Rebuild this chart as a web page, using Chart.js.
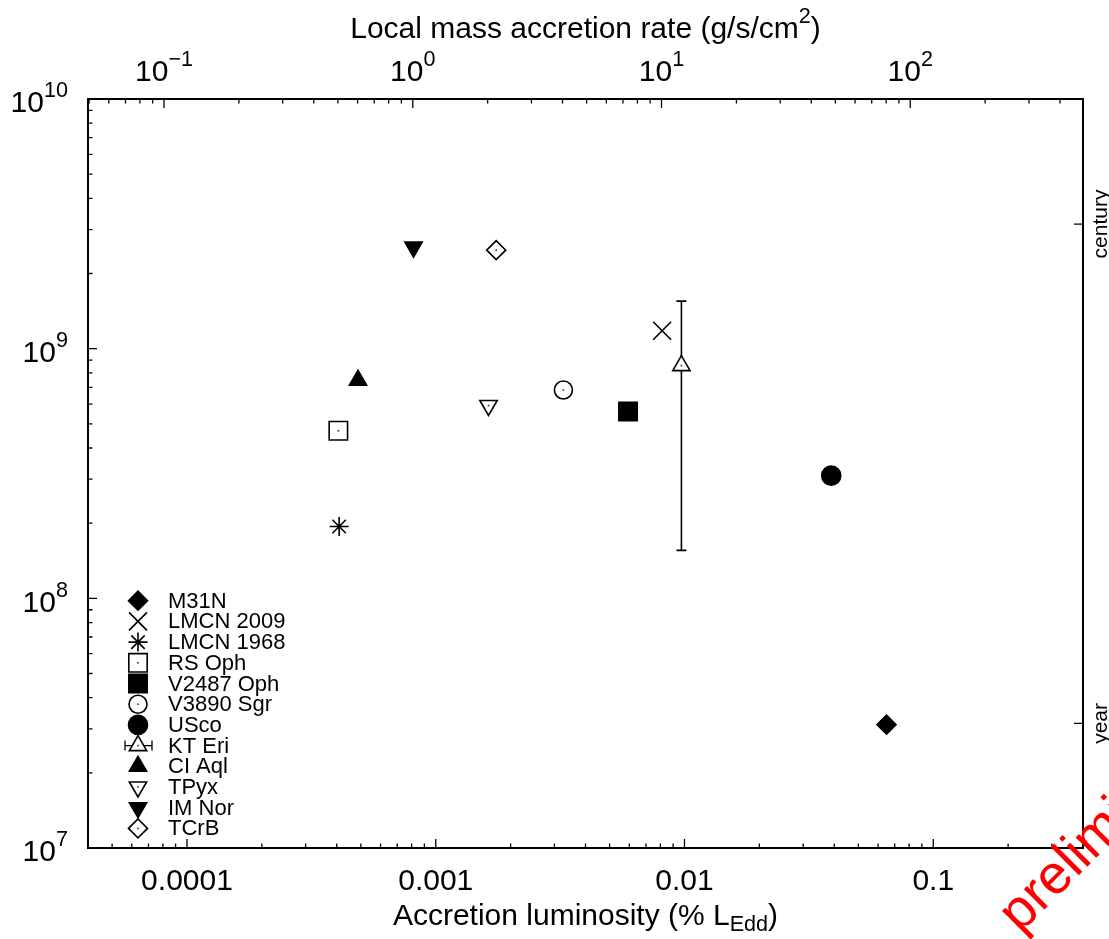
<!DOCTYPE html>
<html>
<head>
<meta charset="utf-8">
<title>Recurrence time vs accretion luminosity</title>
<script src="https://cdn.jsdelivr.net/npm/chart.js@4.4.1/dist/chart.umd.min.js"></script>
<style>
  body { margin: 0; background: #fff; }
  canvas { display: block; }
</style>
</head>
<body>
<canvas id="myCanvas" width="1109" height="939"></canvas>
<script>
// recurrent novae
const novae = ['M31N', 'LMCN 2009', 'LMCN 1968', 'RS Oph', 'V2487 Oph', 'V3890 Sgr', 'USco', 'KT Eri', 'CI Aql', 'TPyx', 'IM Nor', 'TCrB']
// accretion luminosity (% L_Edd)
const accLum = [0.0649, 0.00813, 0.000409, 0.000406, 0.00593, 0.00326, 0.0389, 0.00972, 0.000487, 0.00163, 0.000814, 0.00175]
// recurrence time (s)
const recTime = [3.12e7, 1.18e9, 1.94e8, 4.69e8, 5.6e8, 6.83e8, 3.1e8, 8.55e8, 7.47e8, 5.92e8, 2.55e9, 2.48e9]

// KT Eri has an error bar
const ktEri = 7
const ktEriLow = 1.556e8
const ktEriHigh = 1.55e9

// axis ranges
const lumMin = 4e-5
const lumMax = 0.4
const timeMin = 1e7
const timeMax = 1e10
// g/s/cm^2 per % L_Edd, for the top axis
const rateFactor = 1237

// tick labels
const bottomTickValues = [1e-4, 1e-3, 1e-2, 1e-1]
const bottomTickText = ['0.0001', '0.001', '0.01', '0.1']
const topTickExp = [-1, 0, 1, 2]
const leftTickExp = [7, 8, 9, 10]
const rightTickValues = [3.156e7, 3.156e9]
const rightTickText = ['year', 'century']

// marker looks, one per nova
const markers = [
  { style: 'rectRot', fill: true, r: 9.5 },
  { style: 'crossRot', fill: false, r: 12.7 },
  { style: 'star', fill: false, r: 9.5 },
  { style: 'rect', fill: false, r: 13 },
  { style: 'rect', fill: true, r: 13 },
  { style: 'circle', fill: false, r: 9 },
  { style: 'circle', fill: true, r: 9.5 },
  { style: 'triangle', fill: false, r: 10, rot: 0 },
  { style: 'triangle', fill: true, r: 10, rot: 0 },
  { style: 'triangle', fill: false, r: 10, rot: 180 },
  { style: 'triangle', fill: true, r: 10, rot: 180 },
  { style: 'rectRot', fill: false, r: 9.5 },
]

const FONT = '"Liberation Sans", Arial, Helvetica, sans-serif'
const AXIS_SIZE = 30

// text with optional ^sup / _sub parts
function drawRich(ctx, parts, x, y, size, align) {
    const widths = parts.map(p => {
        ctx.font = (p.sup || p.sub ? size * 0.72 : size) + 'px ' + FONT
        return ctx.measureText(p.t).width
    })
    const total = widths.reduce((a, b) => a + b, 0)
    let cx = align === 'right' ? x - total : align === 'center' ? x - total / 2 : x
    ctx.textAlign = 'left'
    ctx.textBaseline = 'middle'
    parts.forEach((p, i) => {
        let dy = 0
        if (p.sup) dy = -size * 0.42
        if (p.sub) dy = size * 0.28
        ctx.font = (p.sup || p.sub ? size * 0.72 : size) + 'px ' + FONT
        ctx.fillText(p.t, cx, y + dy)
        cx += widths[i]
    })
}

function markerOpts(m) {
    return { pointStyle: m.style, radius: m.r, rotation: m.rot || 0, borderWidth: 1.6 }
}

function drawMarker(ctx, m, x, y) {
    ctx.save()
    ctx.fillStyle = m.fill ? '#000' : '#fff'
    ctx.strokeStyle = '#000'
    ctx.lineWidth = 1.6
    Chart.helpers.drawPoint(ctx, markerOpts(m), x, y)
    if (!m.fill && m.style !== 'crossRot' && m.style !== 'star') {
        ctx.fillStyle = '#333'
        ctx.fillRect(x - 0.8, y - 0.8, 1.6, 1.6)
    }
    ctx.restore()
}

const decorations = {
    id: 'decorations',
    beforeDatasetsDraw(chart) {
        // KT Eri error bar
        const ctx = chart.ctx
        const x = chart.scales.x.getPixelForValue(accLum[ktEri])
        const yLo = chart.scales.y.getPixelForValue(ktEriLow)
        const yHi = chart.scales.y.getPixelForValue(ktEriHigh)
        ctx.save()
        ctx.strokeStyle = '#000'
        ctx.lineWidth = 1.6
        ctx.beginPath()
        ctx.moveTo(x, yLo); ctx.lineTo(x, yHi)
        ctx.moveTo(x - 5, yLo); ctx.lineTo(x + 5, yLo)
        ctx.moveTo(x - 5, yHi); ctx.lineTo(x + 5, yHi)
        ctx.stroke()
        ctx.restore()
    },
    afterDatasetsDraw(chart) {
        const ctx = chart.ctx
        const a = chart.chartArea
        const sx = chart.scales.x, sx2 = chart.scales.x2, sy = chart.scales.y
        ctx.save()

        // centre dots of the open markers
        markers.forEach((m, i) => {
            if (m.fill || m.style === 'crossRot' || m.style === 'star') return
            const el = chart.getDatasetMeta(i).data[0]
            ctx.fillStyle = '#333'
            ctx.fillRect(el.x - 0.8, el.y - 0.8, 1.6, 1.6)
        })

        // frame
        ctx.strokeStyle = '#000'
        ctx.lineWidth = 2
        ctx.strokeRect(a.left, a.top, a.right - a.left, a.bottom - a.top)

        // log ticks, pointing inward
        ctx.lineWidth = 1.3
        ctx.beginPath()
        for (let e = -6; e <= 3; e++) {
            for (let k = 1; k <= 9; k++) {
                const len = k === 1 ? 9 : 4.5
                const v = k * Math.pow(10, e)
                if (v >= lumMin && v <= lumMax) {
                    const p = sx.getPixelForValue(v)
                    ctx.moveTo(p, a.bottom); ctx.lineTo(p, a.bottom - len)
                }
                if (v >= sx2.min && v <= sx2.max) {
                    const p = sx2.getPixelForValue(v)
                    ctx.moveTo(p, a.top); ctx.lineTo(p, a.top + len)
                }
            }
        }
        for (let e = 7; e <= 10; e++) {
            for (let k = 1; k <= 9; k++) {
                const v = k * Math.pow(10, e)
                if (v < timeMin || v > timeMax) continue
                const p = sy.getPixelForValue(v)
                ctx.moveTo(a.left, p); ctx.lineTo(a.left + (k === 1 ? 9 : 4.5), p)
            }
        }
        rightTickValues.forEach(v => {
            const p = sy.getPixelForValue(v)
            ctx.moveTo(a.right, p); ctx.lineTo(a.right - 9, p)
        })
        ctx.stroke()

        // tick labels
        ctx.fillStyle = '#000'
        bottomTickValues.forEach((v, i) => {
            drawRich(ctx, [{ t: bottomTickText[i] }], sx.getPixelForValue(v), a.bottom + 34, AXIS_SIZE, 'center')
        })
        topTickExp.forEach(e => {
            drawRich(ctx, [{ t: '10' }, { t: String(e).replace('-', '\u2212'), sup: true }],
                sx2.getPixelForValue(Math.pow(10, e)), a.top - 26, AXIS_SIZE, 'center')
        })
        leftTickExp.forEach(e => {
            drawRich(ctx, [{ t: '10' }, { t: String(e), sup: true }],
                a.left - 20, sy.getPixelForValue(Math.pow(10, e)) + 5, AXIS_SIZE, 'right')
        })
        rightTickValues.forEach((v, i) => {
            ctx.save()
            ctx.translate(a.right + 18, sy.getPixelForValue(v))
            ctx.rotate(-Math.PI / 2)
            drawRich(ctx, [{ t: rightTickText[i] }], 0, 0, 21, 'center')
            ctx.restore()
        })

        // axis titles
        const mid = (a.left + a.right) / 2
        drawRich(ctx, [{ t: 'Accretion luminosity (% L' }, { t: 'Edd', sub: true }, { t: ')' }], mid, a.bottom + 69, AXIS_SIZE, 'center')
        drawRich(ctx, [{ t: 'Local mass accretion rate (g/s/cm' }, { t: '2', sup: true }, { t: ')' }], mid, 30, AXIS_SIZE, 'center')

        // key, bottom left inside the plot
        novae.forEach((name, i) => {
            const y = 600.7 + i * 20.7
            if (i === ktEri) {
                ctx.beginPath()
                ctx.moveTo(125, y); ctx.lineTo(152, y)
                ctx.moveTo(125, y - 5); ctx.lineTo(125, y + 5)
                ctx.moveTo(152, y - 5); ctx.lineTo(152, y + 5)
                ctx.lineWidth = 1.3
                ctx.stroke()
            }
            drawMarker(ctx, markers[i], 138, y)
            ctx.fillStyle = '#000'
            drawRich(ctx, [{ t: name }], 168, y + 1, 22, 'left')
        })

        // watermark
        ctx.translate(1020, 934)
        ctx.rotate(-45 * Math.PI / 180)
        ctx.fillStyle = '#ff0000'
        ctx.font = '55px ' + FONT
        ctx.textAlign = 'left'
        ctx.textBaseline = 'alphabetic'
        ctx.fillText('preliminary', 0, 0)
        ctx.restore()
    }
}

const datasets = novae.map((name, i) => {
    const m = markers[i]
    return {
        label: name,
        data: [{ x: accLum[i], y: recTime[i] }],
        pointStyle: m.style,
        pointRadius: m.r,
        pointHoverRadius: m.r,
        pointRotation: m.rot || 0,
        pointBackgroundColor: m.fill ? '#000' : '#fff',
        pointBorderColor: '#000',
        pointBorderWidth: 1.6,
        showLine: false,
    }
})

let ctx = document.getElementById('myCanvas').getContext('2d')
new Chart(ctx, {
    type: 'scatter',
    data: { datasets: datasets },
    options: {
        responsive: false,
        animation: false,
        devicePixelRatio: 1,
        layout: { padding: { left: 88, right: 26, top: 99, bottom: 91 } },
        plugins: { legend: { display: false }, tooltip: { enabled: false } },
        scales: {
            x: { type: 'logarithmic', position: 'bottom', min: lumMin, max: lumMax, display: false },
            x2: { type: 'logarithmic', position: 'top', min: lumMin * rateFactor, max: lumMax * rateFactor, display: false },
            y: { type: 'logarithmic', position: 'left', min: timeMin, max: timeMax, display: false },
        },
    },
    plugins: [decorations],
})
</script>
</body>
</html>
